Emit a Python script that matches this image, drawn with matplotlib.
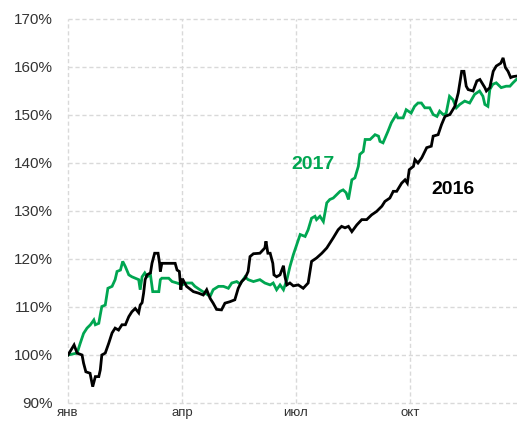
import matplotlib
matplotlib.use('Agg')
import matplotlib.pyplot as plt
from matplotlib.ticker import FuncFormatter

plt.rcParams['font.family'] = ['Liberation Sans', 'DejaVu Sans']

# x in months from 1 Jan, values in % of start level
m_2016 = [0.00, 0.16, 0.24, 0.37, 0.41, 0.47, 0.58, 0.65, 0.72, 0.81, 0.85, 0.89, 0.98, 1.07,
          1.16, 1.24, 1.33, 1.42, 1.51, 1.60, 1.68, 1.77, 1.86, 1.90, 1.95, 1.99, 2.03, 2.08,
          2.17, 2.21, 2.28, 2.37, 2.41, 2.43, 2.47, 2.82, 2.87, 2.93, 2.97, 3.01, 3.12, 3.30,
          3.43, 3.56, 3.65, 3.74, 3.82, 3.91, 4.04, 4.13, 4.26, 4.39, 4.48, 4.57, 4.66, 4.74,
          4.79, 4.88, 5.05, 5.18, 5.21, 5.26, 5.32, 5.39, 5.42, 5.49, 5.58, 5.67, 5.71, 5.76,
          5.84, 5.93, 6.06, 6.19, 6.32, 6.41, 6.54, 6.68, 6.81, 6.89, 6.98, 7.11, 7.20, 7.29,
          7.38, 7.47, 7.60, 7.73, 7.86, 7.99, 8.12, 8.26, 8.34, 8.47, 8.56, 8.65, 8.78, 8.87,
          8.93, 8.98, 9.09, 9.13, 9.21, 9.31, 9.44, 9.56, 9.61, 9.74, 9.83, 9.92, 10.05, 10.18,
          10.27, 10.36, 10.42, 10.48, 10.53, 10.66, 10.76, 10.84, 10.97, 11.01, 11.10, 11.19,
          11.27, 11.39, 11.45, 11.51, 11.58, 11.65, 11.71, 11.80]
v_2016 = [100.0, 102.1, 100.4, 100.0, 98.3, 96.5, 96.2, 93.4, 95.5, 95.5, 96.9, 100.0, 100.4, 102.4,
          104.6, 105.6, 105.2, 106.3, 106.3, 108.0, 109.0, 109.7, 108.8, 110.4, 110.9, 112.9, 115.7, 116.7,
          117.1, 119.1, 121.2, 121.2, 119.1, 117.4, 119.1, 119.1, 117.7, 117.4, 113.6, 115.9, 114.3, 113.2,
          112.9, 112.5, 113.6, 111.8, 110.8, 109.5, 109.4, 110.8, 111.1, 111.5, 113.9, 115.3, 116.0, 117.4,
          120.5, 121.1, 121.2, 122.3, 123.7, 121.2, 121.2, 119.1, 116.7, 116.3, 116.7, 118.6, 116.3, 114.6,
          115.0, 114.4, 114.6, 113.9, 115.0, 119.5, 120.2, 121.2, 122.3, 123.3, 124.4, 126.1, 126.8, 126.5,
          126.8, 125.7, 127.1, 128.2, 128.2, 129.2, 129.9, 131.0, 132.0, 132.7, 134.1, 134.1, 135.8, 136.5,
          135.8, 138.6, 139.3, 140.7, 140.0, 141.1, 143.2, 143.5, 145.6, 145.9, 148.0, 149.7, 150.1, 151.8,
          154.6, 159.1, 159.1, 156.0, 155.3, 155.0, 157.1, 157.4, 155.7, 155.0, 155.7, 159.1,
          160.2, 160.8, 161.9, 159.9, 159.1, 157.8, 158.0, 158.1]

m_2017 = [0.00, 0.24, 0.32, 0.41, 0.50, 0.59, 0.68, 0.72, 0.81, 0.85, 0.89, 0.98, 1.05, 1.16,
          1.24, 1.29, 1.38, 1.44, 1.51, 1.60, 1.68, 1.77, 1.86, 1.90, 1.95, 2.02, 2.08, 2.17,
          2.23, 2.39, 2.43, 2.47, 2.65, 2.74, 2.87, 3.00, 3.12, 3.26, 3.34, 3.47, 3.61, 3.74,
          3.82, 3.96, 4.09, 4.22, 4.31, 4.44, 4.53, 4.66, 4.74, 4.88, 5.05, 5.18, 5.32, 5.40,
          5.49, 5.58, 5.67, 5.76, 5.84, 5.93, 6.02, 6.11, 6.24, 6.32, 6.41, 6.50, 6.54, 6.63,
          6.72, 6.81, 6.89, 6.98, 7.07, 7.16, 7.24, 7.32, 7.38, 7.47, 7.55, 7.64, 7.68, 7.77,
          7.82, 7.95, 8.08, 8.17, 8.21, 8.29, 8.42, 8.51, 8.64, 8.68, 8.82, 8.90, 9.03, 9.12,
          9.21, 9.30, 9.39, 9.52, 9.61, 9.71, 9.78, 9.87, 9.95, 10.04, 10.13, 10.22, 10.31, 10.44,
          10.57, 10.70, 10.83, 10.92, 10.97, 11.05, 11.10, 11.18, 11.27, 11.40, 11.53, 11.63,
          11.71, 11.80]
v_2017 = [100.0, 100.4, 102.4, 104.5, 105.6, 106.3, 107.3, 106.3, 106.6, 108.4, 110.1, 110.4, 113.9, 114.3,
          115.7, 117.4, 117.7, 119.5, 118.4, 116.7, 116.3, 116.0, 115.7, 113.6, 116.3, 117.1, 116.3, 116.7,
          113.2, 113.2, 115.7, 116.0, 116.0, 115.3, 115.0, 114.6, 115.0, 115.0, 114.3, 113.6, 112.9, 112.2,
          113.6, 114.3, 114.3, 113.9, 115.0, 115.3, 114.8, 116.3, 115.7, 115.3, 115.7, 115.0, 114.6, 115.0,
          113.6, 114.6, 113.6, 115.7, 118.4, 120.9, 123.0, 125.1, 124.7, 126.1, 128.5, 128.9, 128.2, 128.9,
          127.8, 131.7, 132.4, 132.7, 133.4, 134.1, 134.4, 133.8, 132.4, 136.5, 136.9, 139.3, 141.8, 142.4,
          144.9, 144.9, 145.9, 145.6, 144.5, 144.2, 146.6, 148.4, 150.1, 149.4, 149.4, 151.1, 150.4, 151.8,
          152.5, 152.5, 151.5, 151.5, 150.1, 149.7, 150.8, 150.1, 150.3, 153.9, 153.2, 151.5, 152.2, 152.9,
          152.5, 154.3, 155.0, 153.9, 152.2, 151.8, 155.3, 156.4, 156.7, 155.7, 156.0, 156.0,
          156.7, 157.4]

month_ticks = [0, 3, 6, 9]
month_labels = ['янв', 'апр', 'июл', 'окт']
y_ticks = [90, 100, 110, 120, 130, 140, 150, 160, 170]

green = '#00a651'

fig = plt.figure(figsize=(5.17, 4.23), dpi=100)
ax = fig.add_axes([68 / 517, 20 / 423, 449 / 517, 384 / 423])

ax.plot(m_2017, v_2017, color=green, lw=2.0, solid_joinstyle='miter')
ax.plot(m_2016, v_2016, color='black', lw=2.0, solid_joinstyle='miter')

ax.text(6.46, 139.7, '2017', color=green, fontsize=14, fontweight='bold', ha='center', va='center')
ax.text(10.14, 134.5, '2016', color='black', fontsize=14, fontweight='bold', ha='center', va='center')

ax.set_xlim(0, 11.816)
ax.set_ylim(90, 170)
ax.set_xticks(month_ticks)
ax.set_xticklabels(month_labels)
ax.set_yticks(y_ticks)
ax.yaxis.set_major_formatter(FuncFormatter(lambda v, p: f'{v:.0f}%'))

for s in ax.spines.values():
    s.set_visible(False)
ax.grid(True, color='#d9d9d9', lw=1.0, ls=(0, (3, 2)))
ax.set_axisbelow(True)
for gl in ax.get_xgridlines() + ax.get_ygridlines():
    gl.set_clip_on(False)

ax.tick_params(axis='y', length=0, pad=11, labelsize=11, labelcolor='#333333')
# reference labels sit at the very bottom edge; keep them just inside
ax.tick_params(axis='x', length=0, pad=3, labelsize=9.5, labelcolor='#333333')

fig.savefig('out.png', dpi=100)
